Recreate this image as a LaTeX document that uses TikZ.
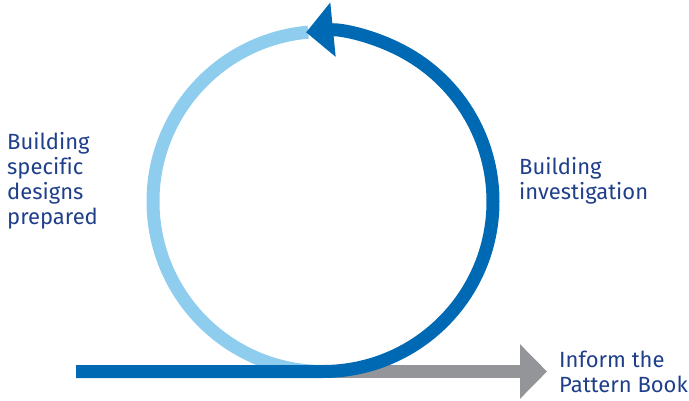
\documentclass[tikz,border=0pt]{standalone}
\usepackage{fontspec}
\setmainfont[Ligatures=NoCommon]{Fira Sans}
\usetikzlibrary{arrows.meta}
\definecolor{darkblue}{HTML}{0069B4}
\definecolor{lightblue}{HTML}{8FCDEE}
\definecolor{greyarrow}{HTML}{939598}
\definecolor{navytext}{HTML}{1F3F8A}
\tikzset{
  loopline/.style={line width=13pt, line cap=butt},
  bigtip/.style={-{Triangle[length=27pt,width=53pt]}},
  label/.style={text=navytext, font=\fontsize{22}{25}\selectfont, align=left, inner sep=0pt},
}
\begin{document}
\begin{tikzpicture}[x=1pt,y=1pt]
\useasboundingbox (0,0) rectangle (689,400);
\coordinate (c) at (323,198.5);
\coordinate (start) at (76,28.5);
\coordinate (bottom) at (323,28.5);
\coordinate (gtip) at (547,28.5);
% grey outgoing arrow
\draw[loopline, greyarrow, bigtip] (bottom) -- (gtip);
% light blue half
\draw[loopline, lightblue] (c) ++(95:170) arc[start angle=95, end angle=270, radius=170];
% dark blue path
\draw[loopline, darkblue, bigtip] (start) -- (bottom) arc[start angle=-90, end angle=95.7, radius=170];
% labels (anchored at the baseline of the last line)
\node[label, anchor=base west] (l1) at (7,176) {Building\\specific\\designs\\prepared};
\node[label, anchor=base west] (l2) at (519,201) {Building\\investigation};
\node[label, anchor=base west] (l3) at (559,8) {Inform the\\Pattern Book};
\end{tikzpicture}
\end{document}
